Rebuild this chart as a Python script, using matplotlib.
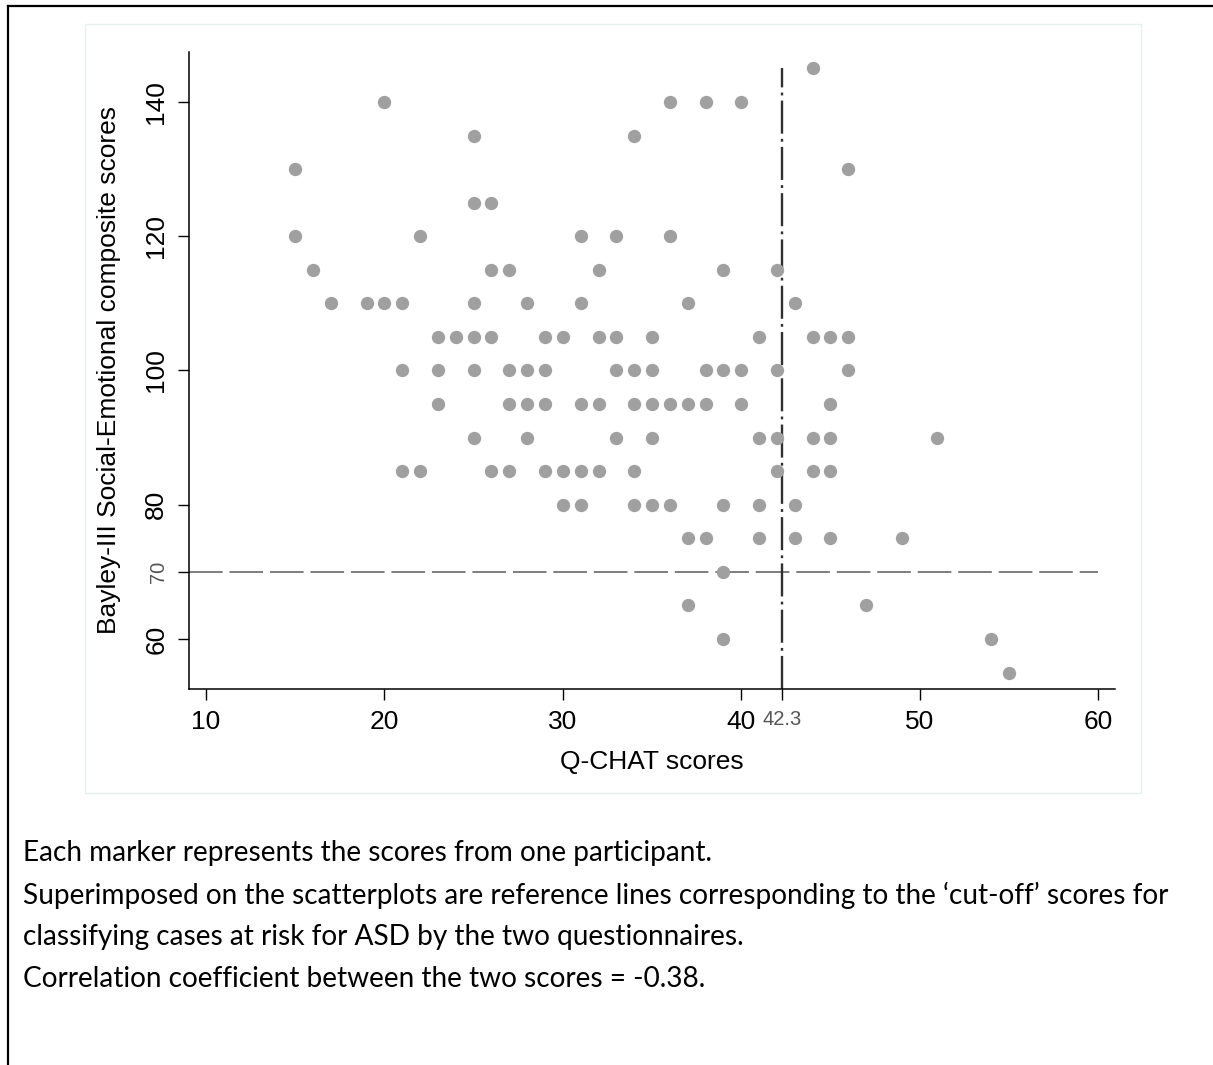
import matplotlib.pyplot as plt
from matplotlib.lines import Line2D
from matplotlib.patches import Rectangle

# Q-CHAT score / Bayley-III social-emotional score, one pair per participant
qchat_scores = (
    [44]
    + [20, 36, 38, 40]
    + [25, 34]
    + [15, 46]
    + [25, 26]
    + [15, 22, 31, 33, 36]
    + [16, 26, 27, 32, 39, 42]
    + [17, 19, 20, 21, 25, 28, 31, 37, 43]
    + [23, 24, 25, 26, 29, 30, 32, 33, 35, 41, 44, 45, 46]
    + [21, 23, 25, 27, 28, 29, 33, 34, 35, 38, 39, 40, 42, 46]
    + [23, 27, 28, 29, 31, 32, 34, 35, 36, 37, 38, 40, 45]
    + [25, 28, 33, 35, 41, 42, 44, 45, 51]
    + [21, 22, 26, 27, 29, 30, 31, 32, 34, 42, 44, 45]
    + [30, 31, 34, 35, 36, 39, 41, 43]
    + [37, 38, 41, 43, 45, 49]
    + [39]
    + [37, 47]
    + [39, 54]
    + [55]
)
bayley_scores = (
    [145] * 1 + [140] * 4 + [135] * 2 + [130] * 2 + [125] * 2 + [120] * 5
    + [115] * 6 + [110] * 9 + [105] * 13 + [100] * 14 + [95] * 13 + [90] * 9
    + [85] * 12 + [80] * 8 + [75] * 6 + [70] * 1 + [65] * 2 + [60] * 2 + [55] * 1
)

x_ticks = [10, 20, 30, 40, 50, 60]
y_ticks = [60, 80, 100, 120, 140]
qchat_cutoff = 42.3
bayley_cutoff = 70

notes = [
    "Each marker represents the scores from one participant.",
    "Superimposed on the scatterplots are reference lines corresponding to the \u2018cut-off\u2019 scores for",
    "classifying cases at risk for ASD by the two questionnaires.",
    "Correlation coefficient between the two scores = -0.38.",
]

W, H = 1213, 1065
fig = plt.figure(figsize=(W / 100, H / 100), dpi=100)
plt.rcParams['font.family'] = ['Liberation Sans', 'DejaVu Sans']

# page frame (top and left rule) and the light graph-region box
fig.add_artist(Line2D([8 / W, 1], [1 - 6 / H, 1 - 6 / H], color='black', lw=1.6))
fig.add_artist(Line2D([8 / W, 8 / W], [0, 1 - 6 / H], color='black', lw=1.6))
fig.add_artist(Rectangle((85 / W, 1 - 793 / H), (1141 - 85) / W, (793 - 24) / H,
                         fill=False, edgecolor='#eaf0f0', lw=1))

ax = fig.add_axes([189 / W, 1 - 689 / H, (1115 - 189) / W, (689 - 52) / H])
ax.set_xlim(9.047, 60.95)
ax.set_ylim(52.55, 147.45)

ax.scatter(qchat_scores, bayley_scores, s=92, color='#a0a0a0', linewidths=0, zorder=3)

# cut-off reference lines
ax.hlines(bayley_cutoff, ax.get_xlim()[0], x_ticks[-1], color='#5a5a5a', lw=1.1,
          linestyle=(0, (22, 4.5)), zorder=2)
ax.vlines(qchat_cutoff, ax.get_ylim()[0], max(bayley_scores), color='#303030', lw=1.7,
          linestyle=(0, (14, 2.2, 1.2, 2.2)), zorder=2)

for side in ['top', 'right']:
    ax.spines[side].set_visible(False)
for side in ['left', 'bottom']:
    ax.spines[side].set_linewidth(1.1)

ax.set_xticks(x_ticks + [qchat_cutoff], [str(t) for t in x_ticks] + [str(qchat_cutoff)])
ax.set_yticks(y_ticks + [bayley_cutoff], [str(t) for t in y_ticks] + [str(bayley_cutoff)])
ax.tick_params(axis='both', length=8, width=1, pad=7, labelsize=19)
for lab in ax.get_yticklabels():
    lab.set_rotation(90)
    lab.set_va('center')
ax.get_xticklabels()[-1].set_fontsize(14.5)
ax.get_xticklabels()[-1].set_color('#555555')
ax.get_yticklabels()[-1].set_fontsize(14.5)
ax.get_yticklabels()[-1].set_color('#555555')

ax.set_xlabel('Q-CHAT scores', fontsize=19, labelpad=12)
ax.set_ylabel('Bayley-III Social-Emotional composite scores', fontsize=19, labelpad=17)

for i, line in enumerate(notes):
    fig.text(23 / W, 1 - (853 + 42 * i) / H, line, fontsize=20.2, family=['Lato', 'DejaVu Sans'],
             ha='left', va='center', color='black')

fig.savefig('out.png', dpi=100, facecolor='white')
